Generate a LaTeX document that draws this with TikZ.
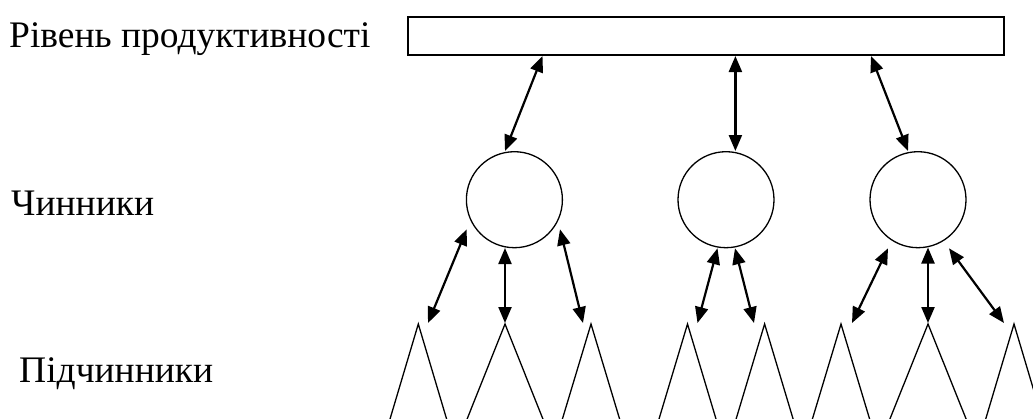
\documentclass[tikz,border=0pt]{standalone}
\usepackage{fontspec}
\setmainfont{Liberation Serif}
\usetikzlibrary{arrows.meta,calc}
\begin{document}
\begin{tikzpicture}[x=1pt,y=-1pt,
  lvl/.style={anchor=base west,inner sep=0pt,font=\fontsize{37.5}{42}\selectfont},
  box/.style={draw,line width=1.3pt,inner sep=0pt,minimum width=596pt,minimum height=38pt},
  factor/.style={draw,circle,line width=1.3pt,inner sep=0pt,minimum size=96pt},
  tri/.style={line width=1.3pt},
  dbl/.style={{Triangle[length=16pt,width=13pt]}-{Triangle[length=16pt,width=13pt]},line width=2.2pt}]
\useasboundingbox (0,0) rectangle (1033,418);
\clip (0,0) rectangle (1033,418);
\fill[white] (0,0) rectangle (1033,418);
% labels
\node[lvl] (l1) at (9,47) {Рівень продуктивності};
\node[lvl] (l2) at (11,215) {Чинники};
\node[lvl] (l3) at (19,382) {Підчинники};
% top box and circles
\node[box] (top) at (706,36) {};
\node[factor] (c1) at (514.4,199.7) {};
\node[factor] (c2) at (726,199.7) {};
\node[factor] (c3) at (918,199.7) {};
% triangles (sub-factors)
\foreach \n/\x/\w in {1/418.3/28,2/505/37.5,3/591/28.3,4/687.5/28.2,5/764.6/28.2,6/841/28.3,7/928/37.7,8/1014/28}{
  \coordinate (t\n) at (\x,324);
  \draw[tri] ($(t\n)+(-\w*1.3,94*1.3)$) -- (t\n) -- ($(t\n)+(\w*1.3,94*1.3)$);
}
% arrow end points
\coordinate (u1) at (542.5,56); \coordinate (d1) at (505,151);
\coordinate (u2) at (735.4,56); \coordinate (d2) at (735.4,151);
\coordinate (u3) at (871,56);   \coordinate (d3) at (908,151);
\coordinate (a1) at (466.7,229.3); \coordinate (s1) at (428,323);
\coordinate (a2) at (505,248);     \coordinate (s2) at (505,323);
\coordinate (a3) at (560,229.3);   \coordinate (s3) at (583,323);
\coordinate (b1) at (717.5,248.3); \coordinate (s4) at (697.5,323);
\coordinate (b2) at (735,248.3);   \coordinate (s5) at (754,323);
\coordinate (e1) at (888,248.3);   \coordinate (s6) at (852,323);
\coordinate (e2) at (928,247.5);   \coordinate (s7) at (928,323);
\coordinate (e3) at (949,248.3);   \coordinate (s8) at (1004,323);
% arrows
\draw[dbl] (u1) -- (d1);
\draw[dbl] (u2) -- (d2);
\draw[dbl] (u3) -- (d3);
\draw[dbl] (a1) -- (s1);
\draw[dbl] (a2) -- (s2);
\draw[dbl] (a3) -- (s3);
\draw[dbl] (b1) -- (s4);
\draw[dbl] (b2) -- (s5);
\draw[dbl] (e1) -- (s6);
\draw[dbl] (e2) -- (s7);
\draw[dbl] (e3) -- (s8);
\end{tikzpicture}
\end{document}
